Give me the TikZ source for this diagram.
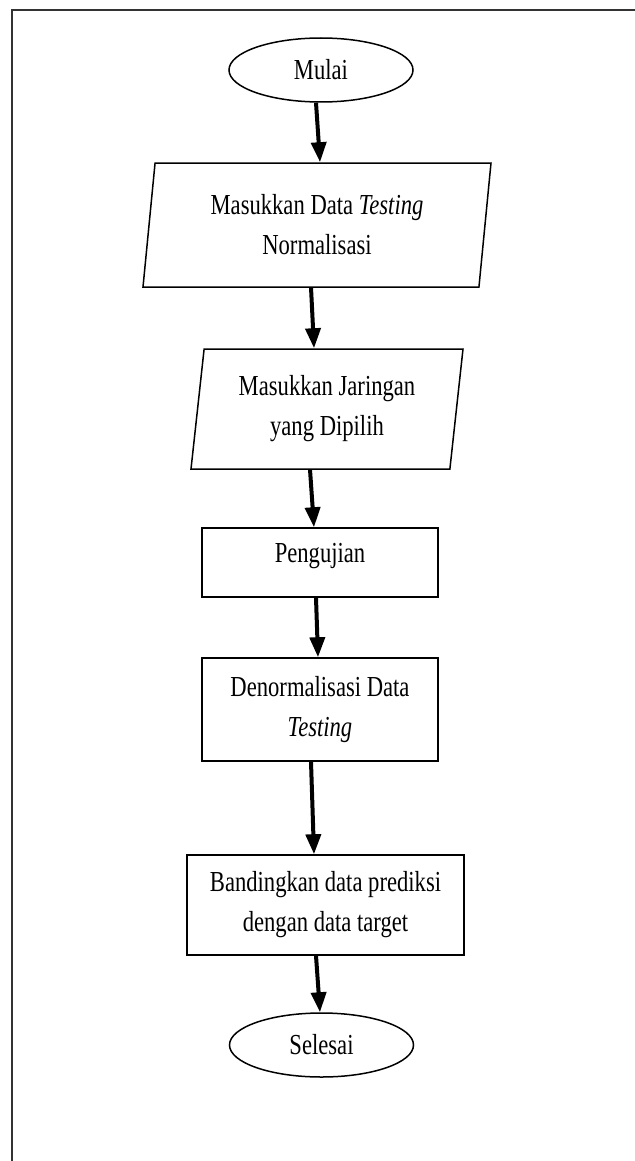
\documentclass[tikz,border=0pt]{standalone}
\usepackage{fontspec}
\setmainfont[FakeStretch=0.78]{Liberation Serif}
\usetikzlibrary{arrows.meta, shapes.geometric, calc}
\tikzset{
  every picture/.style={font=\fontsize{14.5}{20}\selectfont, line width=0.75pt},
  term/.style={draw, ellipse, minimum width=92pt, minimum height=32pt, inner sep=2pt},
  io/.style={draw, trapezium, trapezium left angle=80, trapezium right angle=100, trapezium stretches body, align=center, inner sep=2pt},
  proc/.style={draw, rectangle, align=center, inner sep=2pt},
  flow/.style={-{Triangle[width=7.5pt, length=10pt]}, line width=2pt},
}

\begin{document}
\begin{tikzpicture}[x=0.5pt, y=-0.5pt]
  \useasboundingbox (0,0) rectangle (634,1161);
  \draw[line width=1pt, draw=black!80] (12,10) rectangle (650,1180);
  % flowchart nodes
  \node[term] (start) at (321,70) {Mulai};
  \node[io, minimum width=174pt, minimum height=62pt] (in1) at (317,225) {Masukkan Data \textit{Testing}\\Normalisasi};
  \node[io, minimum width=136pt, minimum height=60pt] (in2) at (327,409) {Masukkan Jaringan\\yang Dipilih};
  \node[proc, minimum width=118pt, minimum height=34.5pt, text depth=10pt] (test) at (320,562.5) {Pengujian};
  \node[proc, minimum width=118pt, minimum height=51.5pt] (denorm) at (320,709.5) {Denormalisasi Data\\\textit{Testing}};
  \node[proc, minimum width=138.5pt, minimum height=50pt] (compare) at (325.5,905) {Bandingkan data prediksi\\dengan data target};
  \node[term] (stop) at (321.5,1045) {Selesai};
  % arrows
  \foreach \a/\b/\da/\db in {start/in1/-5/3, in1/in2/-6/-13, in2/test/-17/-6, test/denorm/-4/-2, denorm/compare/-9/-11.5, compare/stop/-9.5/-1.5}
    \draw[flow] ($(\a.south)+(\da,0)$) -- ($(\b.north)+(\db,0)$);
\end{tikzpicture}
\end{document}
